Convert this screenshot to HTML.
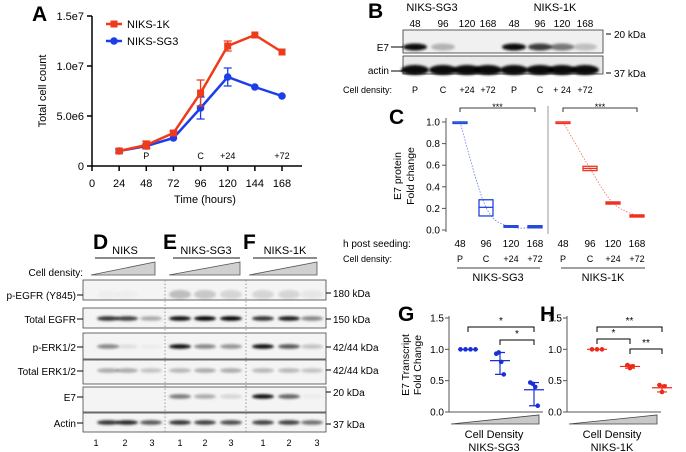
<!DOCTYPE html>
<html><head><meta charset="utf-8"><style>
body{margin:0;background:#fff}
svg{display:block;font-family:"Liberation Sans",Arial,sans-serif}
</style></head><body>
<svg id="fig" width="686" height="452" viewBox="0 0 686 452">
<defs>
<filter id="bl" x="-50%" y="-100%" width="200%" height="300%"><feGaussianBlur stdDeviation="1.3"/></filter>
</defs>
<g font-weight="bold" font-size="21" fill="#000">
<text x="32" y="21">A</text>
<text x="368" y="18">B</text>
<text x="389" y="124">C</text>
<text x="93" y="249">D</text>
<text x="163" y="249">E</text>
<text x="243" y="249">F</text>
<text x="398" y="321">G</text>
<text x="540" y="321">H</text>
</g>
<g id="gA"></g>
<g id="gB"></g>
<g id="gC"></g>
<g id="gD"></g>
<g id="gG"></g>
<g id="gH"></g>
</svg>
<script>
// ===== Panel A data =====
const hoursA = [24, 48, 72, 96, 120, 144, 168];
const xTicksA = [0, 24, 48, 72, 96, 120, 144, 168];
const yTicksA = [0, 5e6, 1e7, 1.5e7];
const yTickLabelsA = ["0", "5.0e6", "1.0e7", "1.5e7"];
const niks1k = [1.5e6, 2.1e6, 3.3e6, 7.3e6, 1.2e7, 1.31e7, 1.14e7];
const niks1kErr = [0, 0.4e6, 0.2e6, 1.3e6, 0.5e6, 0, 0];
const niksSG3 = [1.5e6, 2.0e6, 2.8e6, 5.8e6, 8.9e6, 7.9e6, 7.0e6];
const niksSG3Err = [0.2e6, 0.2e6, 0, 1.1e6, 0.9e6, 0, 0];
const annotHoursA = [48, 96, 120, 168];
const annotLabelsA = ["P", "C", "+24", "+72"];
// ===== Panel C data =====
const hoursC = [48, 96, 120, 168];
const yTicksC = [0, 0.2, 0.4, 0.6, 0.8, 1.0];
const e7SG3 = [1.0, 0.21, 0.03, 0.03];
const e7SG3Lo = [1.0, 0.13, 0.025, 0.02];
const e7SG3Hi = [1.0, 0.28, 0.04, 0.04];
const e71K = [1.0, 0.57, 0.25, 0.13];
const e71KLo = [1.0, 0.55, 0.24, 0.12];
const e71KHi = [1.0, 0.59, 0.26, 0.14];
const densityLabelsC = ["P", "C", "+24", "+72"];
// ===== Panel G/H data =====
const yTicksGH = [0, 0.5, 1.0, 1.5];
const yTickLabelsGH = ["0.0", "0.5", "1.0", "1.5"];
const gPts1 = [1, 1, 1, 1];
const gPts2 = [0.93, 0.95, 0.8, 0.6];
const gPts3 = [0.47, 0.45, 0.40, 0.1];
const hPts1 = [1, 1, 1];
const hPts2 = [0.75, 0.70, 0.73];
const hPts3 = [0.43, 0.32, 0.41];

const NS = "http://www.w3.org/2000/svg";
function mk(parent, tag, attrs, txt) {
  const e = document.createElementNS(NS, tag);
  for (const k in attrs) e.setAttribute(k, attrs[k]);
  if (txt !== undefined) e.textContent = txt;
  parent.appendChild(e);
  return e;
}
function tx(parent, x, y, s, size, anchor, name, fill) {
  const t = mk(parent, "text", {x: x, y: y, "font-size": size, "text-anchor": anchor || "start", fill: fill || "#000"}, s);
  
  
  return t;
}

// ===== Panel A =====
(function () {
  const g = document.getElementById("gA");
  const xA = h => 92 + h * (190 / 168);
  const yA = v => 166 - v / 1.5e7 * 150;
  const ax = mk(g, "path", {d: "M92 16 V166 H302", stroke: "#000", "stroke-width": 1.5, fill: "none"});
  
  
  yTicksA.forEach((v, i) => {
    mk(g, "line", {x1: 87, x2: 92, y1: yA(v), y2: yA(v), stroke: "#000", "stroke-width": 1.5});
    tx(g, 84, yA(v) + 4, yTickLabelsA[i], 11, "end", "y-tick-label");
  });
  xTicksA.forEach(h => {
    mk(g, "line", {x1: xA(h), x2: xA(h), y1: 166, y2: 171, stroke: "#000", "stroke-width": 1.5});
    tx(g, xA(h), 187, String(h), 11, "middle", "x-tick-label");
  });
  tx(g, 205, 203, "Time (hours)", 11, "middle", "x-axis-title");
  const yt = tx(g, 0, 0, "Total cell count", 11, "middle", "y-axis-title");
  yt.setAttribute("transform", "translate(46 91) rotate(-90)");
  annotHoursA.forEach((h, i) => tx(g, xA(h), 159, annotLabelsA[i], 9, "middle", "density-annotation"));
  function series(vals, errs, color, square, name) {
    const sg = mk(g, "g", {});
    
    
    mk(sg, "polyline", {points: vals.map((v, i) => xA(hoursA[i]) + "," + yA(v)).join(" "), fill: "none", stroke: color, "stroke-width": 2.5});
    vals.forEach((v, i) => {
      const x = xA(hoursA[i]), y = yA(v);
      if (errs[i]) {
        const e = mk(sg, "path", {d: `M${x} ${yA(v - errs[i])} V${yA(v + errs[i])} M${x - 4} ${yA(v - errs[i])} h8 M${x - 4} ${yA(v + errs[i])} h8`, stroke: color, "stroke-width": 1.3, fill: "none"});
        
        
      }
      const m = square ? mk(sg, "rect", {x: x - 3.5, y: y - 3.5, width: 7, height: 7, fill: color}) : mk(sg, "circle", {cx: x, cy: y, r: 3.8, fill: color});
      
      
    });
  }
  series(niksSG3, niksSG3Err, "#1c3ee8", false, "series-niks-sg3");
  series(niks1k, niks1kErr, "#f03a1c", true, "series-niks-1k");
  const lg = mk(g, "g", {});
  
  
  mk(lg, "line", {x1: 106, x2: 122, y1: 24, y2: 24, stroke: "#f03a1c", "stroke-width": 2.5});
  mk(lg, "rect", {x: 110.5, y: 20.5, width: 7, height: 7, fill: "#f03a1c"});
  tx(lg, 127, 28, "NIKS-1K", 11, "start", "legend-entry-niks-1k");
  mk(lg, "line", {x1: 106, x2: 122, y1: 41, y2: 41, stroke: "#1c3ee8", "stroke-width": 2.5});
  mk(lg, "circle", {cx: 114, cy: 41, r: 3.8, fill: "#1c3ee8"});
  tx(lg, 127, 45, "NIKS-SG3", 11, "start", "legend-entry-niks-sg3");
})();

function band(parent, cx, cy, w, h, op) {
  if (op <= 0) return;
  const e = mk(parent, "ellipse", {cx: cx, cy: cy, rx: w / 2, ry: h / 2, fill: "#000", opacity: op, filter: "url(#bl)"});
  
  
}

// ===== Panel B =====
(function () {
  const g = document.getElementById("gB");
  tx(g, 432, 11, "NIKS-SG3", 11, "middle", "group-label-sg3");
  tx(g, 555, 11, "NIKS-1K", 11, "middle", "group-label-1k");
  const lx = [415, 443, 467, 488, 514, 540, 562, 585];
  const lbl = ["48", "96", "120", "168", "48", "96", "120", "168"];
  lx.forEach((x, i) => tx(g, x, 27, lbl[i], 10, "middle", "lane-hours"));
  const b1 = mk(g, "rect", {x: 403, y: 30, width: 200, height: 23, fill: "#f0f0f0", stroke: "#333", "stroke-width": 0.8});
  
  
  const b2 = mk(g, "rect", {x: 403, y: 56, width: 200, height: 18, fill: "#eaeaea", stroke: "#333", "stroke-width": 0.8});
  
  
  const e7op = [0.95, 0.25, 0, 0, 0.95, 0.75, 0.5, 0.2];
  lx.forEach((x, i) => band(g, x, 47, 24, 7, e7op[i]));
  lx.forEach((x, i) => band(g, x, 70, 28, 10, 0.95));
  tx(g, 389, 51, "E7", 10, "end", "e7-label");
  mk(g, "line", {x1: 391, x2: 403, y1: 47, y2: 47, stroke: "#000"});
  tx(g, 389, 74, "actin", 10, "end", "actin-label");
  mk(g, "line", {x1: 391, x2: 403, y1: 71, y2: 71, stroke: "#000"});
  mk(g, "line", {x1: 606, x2: 611, y1: 34, y2: 34, stroke: "#000"});
  tx(g, 614, 38, "20 kDa", 10, "start", "marker-20kda");
  mk(g, "line", {x1: 606, x2: 611, y1: 73, y2: 73, stroke: "#000"});
  tx(g, 614, 77, "37 kDa", 10, "start", "marker-37kda");
  tx(g, 343, 93, "Cell density:", 9, "start", "cell-density-label");
  const dl = ["P", "C", "+24", "+72", "P", "C", "+ 24", "+72"];
  lx.forEach((x, i) => tx(g, x, 93, dl[i], 9, "middle", "density-label"));
})();

// ===== Panel C =====
(function () {
  const g = document.getElementById("gC");
  const yC = v => 230 - v * 108;
  const xL = [460, 486, 511, 535], xR = [563, 590, 613, 637];
  const ax = mk(g, "path", {d: "M446 118 V232", stroke: "#555", "stroke-width": 1, fill: "none"});
  
  
  mk(g, "line", {x1: 548, x2: 548, y1: 106, y2: 234, stroke: "#999"});
  yTicksC.forEach(v => {
    mk(g, "line", {x1: 442, x2: 446, y1: yC(v), y2: yC(v), stroke: "#555"});
    tx(g, 440, yC(v) + 3.5, v.toFixed(1), 10, "end", "y-tick-label");
  });
  const t1 = tx(g, 0, 0, "E7 protein", 10.5, "middle", "y-axis-title");
  t1.setAttribute("transform", "translate(401 176) rotate(-90)");
  const t2 = tx(g, 0, 0, "Fold change", 10.5, "middle", "y-axis-title");
  t2.setAttribute("transform", "translate(414 176) rotate(-90)");
  function smooth(xs, ys) {
    let d = `M${xs[0]} ${ys[0]}`;
    for (let i = 0; i < xs.length - 1; i++) {
      const p0 = i ? [xs[i - 1], ys[i - 1]] : [xs[i], ys[i]];
      const p3 = i + 2 < xs.length ? [xs[i + 2], ys[i + 2]] : [xs[i + 1], ys[i + 1]];
      const c1 = [xs[i] + (xs[i + 1] - p0[0]) / 6, ys[i] + (ys[i + 1] - p0[1]) / 6];
      const c2 = [xs[i + 1] - (p3[0] - xs[i]) / 6, ys[i + 1] - (p3[1] - ys[i]) / 6];
      d += ` C${c1[0]} ${c1[1]} ${c2[0]} ${c2[1]} ${xs[i + 1]} ${ys[i + 1]}`;
    }
    return d;
  }
  function grp(xs, mid, lo, hi, color, name) {
    const sg = mk(g, "g", {});
    
    
    mk(sg, "path", {d: smooth(xs, mid.map(yC)), fill: "none", stroke: color, "stroke-width": 0.8, "stroke-dasharray": "1.5 1.5", opacity: 0.7});
    xs.forEach((x, i) => {
      const h = Math.max(yC(lo[i]) - yC(hi[i]), 1.5);
      const b = mk(sg, "rect", {x: x - 7, y: yC(hi[i]), width: 14, height: h, fill: "none", stroke: color, "stroke-width": 1.3});
      
      
      mk(sg, "line", {x1: x - 7, x2: x + 7, y1: yC(mid[i]), y2: yC(mid[i]), stroke: color, "stroke-width": 1.3});
    });
  }
  grp(xL, e7SG3, e7SG3Lo, e7SG3Hi, "#2244dd", "sg3-boxes");
  grp(xR, e71K, e71KLo, e71KHi, "#ee3322", "1k-boxes");
  [[xL[0], xL[3]], [xR[0], xR[3]]].forEach(p => {
    const br = mk(g, "path", {d: `M${p[0]} 112 V108 H${p[1]} V112`, stroke: "#000", fill: "none", "stroke-width": 0.8});
    
    
    tx(g, (p[0] + p[1]) / 2, 110, "***", 9, "middle", "significance-stars");
  });
  tx(g, 343, 247, "h post seeding:", 10, "start", "h-post-seeding-label");
  hoursC.forEach((h, i) => { tx(g, xL[i], 247, String(h), 10, "middle", "x-tick-label"); tx(g, xR[i], 247, String(h), 10, "middle", "x-tick-label"); });
  tx(g, 343, 262, "Cell density:", 9, "start", "cell-density-label");
  densityLabelsC.forEach((s, i) => { tx(g, xL[i], 262, s, 9, "middle", "density-label"); tx(g, xR[i], 262, s, 9, "middle", "density-label"); });
  mk(g, "line", {x1: 457, x2: 540, y1: 268, y2: 268, stroke: "#000", "stroke-width": 0.8});
  mk(g, "line", {x1: 561, x2: 645, y1: 268, y2: 268, stroke: "#000", "stroke-width": 0.8});
  tx(g, 498, 281, "NIKS-SG3", 11, "middle", "group-label-sg3");
  tx(g, 603, 281, "NIKS-1K", 11, "middle", "group-label-1k");
})();

// ===== Panels D/E/F blots =====
(function () {
  const g = document.getElementById("gD");
  const groups = [["NIKS", 95, 155, 125], ["NIKS-SG3", 173, 240, 206], ["NIKS-1K", 253, 317, 285]];
  groups.forEach(gr => {
    tx(g, gr[3], 254, gr[0], 11, "middle", "group-header");
    mk(g, "line", {x1: gr[1], x2: gr[2], y1: 258, y2: 258, stroke: "#666", "stroke-width": 1.5});
    const tri = mk(g, "polygon", {points: `${gr[1] - 4},275 ${gr[2]},275 ${gr[2]},262`, fill: "#d0d0d0", stroke: "#555", "stroke-width": 0.8});
    
    
  });
  tx(g, 83, 276, "Cell density:", 10, "end", "cell-density-label");
  const laneX = [108, 127, 151, 180, 205, 231, 263, 289, 312];
  const numX = [96, 125, 152, 180, 205, 231, 263, 289, 317];
  const rows = [
    ["p-EGFR (Y845)", 280, 20, "180 kDa", 293, [0.02, 0.02, 0.0, 0.22, 0.18, 0.12, 0.12, 0.12, 0.05], 295],
    ["Total EGFR", 308, 20, "150 kDa", 319, [0.8, 0.75, 0.3, 0.95, 1, 1, 0.8, 0.9, 0.45], 319],
    ["p-ERK1/2", 333, 26, "42/44 kDa", 347, [0.45, 0.08, 0.03, 0.95, 0.45, 0.4, 0.95, 0.65, 0.2], 347],
    ["Total ERK1/2", 360, 24, "42/44 kDa", 370, [0.3, 0.3, 0.2, 0.25, 0.3, 0.3, 0.25, 0.25, 0.2], 371],
    ["E7", 387, 25, "20 kDa", 392, [0, 0, 0, 0.5, 0.3, 0.12, 0.95, 0.6, 0.03], 397],
    ["Actin", 413, 19, "37 kDa", 424, [0.8, 0.85, 0.65, 0.8, 0.75, 0.7, 0.75, 0.75, 0.55], 423]
  ];
  rows.forEach(r => {
    const rb = mk(g, "rect", {x: 83, y: r[1], width: 243, height: r[2], fill: "#f4f4f4", stroke: "#444", "stroke-width": 0.8});
    
    
    laneX.forEach((x, i) => band(g, x, r[6] - 0.5, 22, r[0] === "p-EGFR (Y845)" ? 9 : 4.5, r[5][i]));
    tx(g, 76, r[6] + 4, r[0], 10, "end", "row-label");
    mk(g, "line", {x1: 77, x2: 83, y1: r[6], y2: r[6], stroke: "#000"});
    mk(g, "line", {x1: 326, x2: 331, y1: r[4], y2: r[4], stroke: "#000"});
    tx(g, 333, r[4] + 4, r[3], 10, "start", "marker-label");
  });
  [165, 246].forEach(x => mk(g, "line", {x1: x, x2: x, y1: 280, y2: 432, stroke: "#888", "stroke-dasharray": "1.5 2", "stroke-width": 0.8}));
  ["1", "2", "3", "1", "2", "3", "1", "2", "3"].forEach((s, i) => tx(g, numX[i], 446, s, 9, "middle", "lane-number"));
})();

// ===== Panels G/H =====
function dotPlot(gid, axX, xs, pts, color, brackets, groupName, yLab) {
  const g = document.getElementById(gid);
  const yS = v => 412 - v / 1.5 * 94;
  const ax = mk(g, "path", {d: `M${axX} 316 V412 H${axX + 94}`, stroke: "#555", "stroke-width": 1, fill: "none"});
  
  
  yTicksGH.forEach((v, i) => {
    mk(g, "line", {x1: axX - 4, x2: axX, y1: yS(v), y2: yS(v), stroke: "#555"});
    tx(g, axX - 5, yS(v) + 3.5, yTickLabelsGH[i], 10, "end", "y-tick-label");
  });
  if (yLab) {
    const a = tx(g, 0, 0, "E7 Transcript", 10.5, "middle", "y-axis-title");
    a.setAttribute("transform", `translate(${axX - 40} 365) rotate(-90)`);
    const b = tx(g, 0, 0, "Fold Change", 10.5, "middle", "y-axis-title");
    b.setAttribute("transform", `translate(${axX - 28} 365) rotate(-90)`);
  }
  pts.forEach((arr, gi) => {
    const x = xs[gi];
    const mean = arr.reduce((a, b) => a + b, 0) / arr.length;
    const mn = Math.min(...arr), mxv = Math.max(...arr);
    const eb = mk(g, "path", {d: `M${x - 10} ${yS(mean)} h20 M${x} ${yS(mn)} V${yS(mxv)} M${x - 5} ${yS(mn)} h10 M${x - 5} ${yS(mxv)} h10`, stroke: color, fill: "none", "stroke-width": 1.2});
    
    
    arr.forEach((v, k) => {
      const off = (k - (arr.length - 1) / 2) * (gi === 0 ? 5 : 2.5);
      const c = mk(g, "circle", {cx: x + off, cy: yS(v), r: 2.3, fill: color});
      
      
    });
  });
  brackets.forEach(b => {
    const br = mk(g, "path", {d: `M${xs[b[0]]} ${b[2] + 5} V${b[2]} H${xs[b[1]]} V${b[2] + 5}`, stroke: "#000", fill: "none", "stroke-width": 1});
    
    
    tx(g, (xs[b[0]] + xs[b[1]]) / 2, b[2] - 3, b[3], 10, "middle", "significance-stars");
  });
  const tri = mk(g, "polygon", {points: `${axX + 2},424 ${axX + 90},424 ${axX + 90},415`, fill: "#c8c8c8", stroke: "#444", "stroke-width": 0.8});
  
  
  tx(g, axX + 45, 438, "Cell Density", 11, "middle", "x-axis-title");
  tx(g, axX + 45, 451, groupName, 11, "middle", "x-axis-group");
}
dotPlot("gG", 449, [468, 500, 534], [gPts1, gPts2, gPts3], "#1a2fd8", [[0, 2, 327, "*"], [1, 2, 340, "*"]], "NIKS-SG3", true);
dotPlot("gH", 567, [597, 630, 662], [hPts1, hPts2, hPts3], "#ee2a1a", [[0, 2, 327, "**"], [0, 1, 339, "*"], [1, 2, 349, "**"]], "NIKS-1K", false);
</script>
</body></html>
